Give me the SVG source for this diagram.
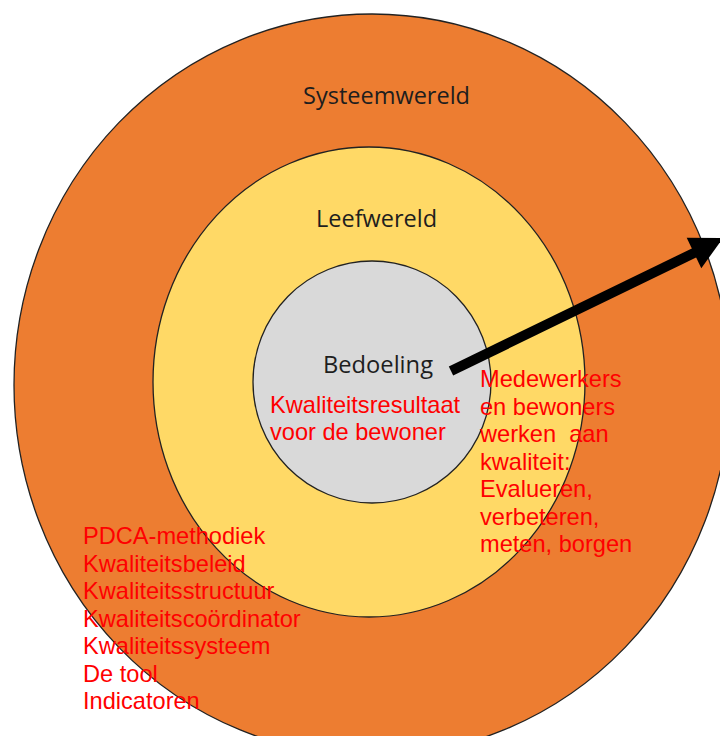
<svg xmlns="http://www.w3.org/2000/svg" width="720" height="736" viewBox="0 0 720 736">
  <style>
    .ring { stroke: #222222; stroke-width: 1.3; }
    .outer { fill: #ED7D31; }
    .middle { fill: #FFD966; }
    .core { fill: #D9D9D9; }
    .label { font-family: "Open Sans", "Noto Sans", sans-serif; font-size: 24px; fill: #1e1e1e; }
    .note { font-family: "Liberation Sans", Arial, sans-serif; font-size: 23.6px; fill: #FF0000; white-space: pre; }
  </style>
  <rect width="720" height="736" fill="#FFFFFF"/>

  <!-- concentric rings, outermost first -->
  <g id="systeemwereld">
    <ellipse class="ring outer" cx="372" cy="385" rx="358" ry="371"/>
    <text class="label" x="303" y="104" textLength="167" lengthAdjust="spacingAndGlyphs">Systeemwereld</text>
  </g>

  <g id="leefwereld">
    <ellipse class="ring middle" cx="369" cy="382" rx="216" ry="235"/>
    <text class="label" x="316" y="227" textLength="121" lengthAdjust="spacingAndGlyphs">Leefwereld</text>
  </g>

  <g id="bedoeling">
    <ellipse class="ring core" cx="372" cy="382" rx="119" ry="121"/>
    <text class="label" x="323" y="373" textLength="110" lengthAdjust="spacingAndGlyphs">Bedoeling</text>
  </g>

  <g id="connectors">
    <line x1="451" y1="371" x2="696" y2="252" stroke="#000000" stroke-width="10" stroke-linecap="butt"/>
    <polygon points="723,238 701.3,268.3 686.7,237.7" fill="#000000"/>
  </g>

  <!-- red annotations sit above every ring -->
  <g id="notes-bedoeling">
    <text class="note">
      <tspan x="270" y="413">Kwaliteitsresultaat</tspan>
      <tspan x="270" y="440">voor de bewoner</tspan>
    </text>
  </g>

  <g id="notes-leefwereld">
    <text class="note">
      <tspan x="480" y="387">Medewerkers</tspan>
      <tspan x="480" y="415">en bewoners</tspan>
      <tspan x="480" y="442">werken  aan</tspan>
      <tspan x="480" y="470">kwaliteit:</tspan>
      <tspan x="480" y="497">Evalueren,</tspan>
      <tspan x="480" y="525">verbeteren,</tspan>
      <tspan x="480" y="552">meten, borgen</tspan>
    </text>
  </g>

  <g id="notes-systeemwereld">
    <text class="note">
      <tspan x="83" y="544">PDCA-methodiek</tspan>
      <tspan x="83" y="572">Kwaliteitsbeleid</tspan>
      <tspan x="83" y="599">Kwaliteitsstructuur</tspan>
      <tspan x="83" y="627">Kwaliteitscoördinator</tspan>
      <tspan x="83" y="654">Kwaliteitssysteem</tspan>
      <tspan x="83" y="682">De tool</tspan>
      <tspan x="83" y="709">Indicatoren</tspan>
    </text>
  </g>
</svg>
